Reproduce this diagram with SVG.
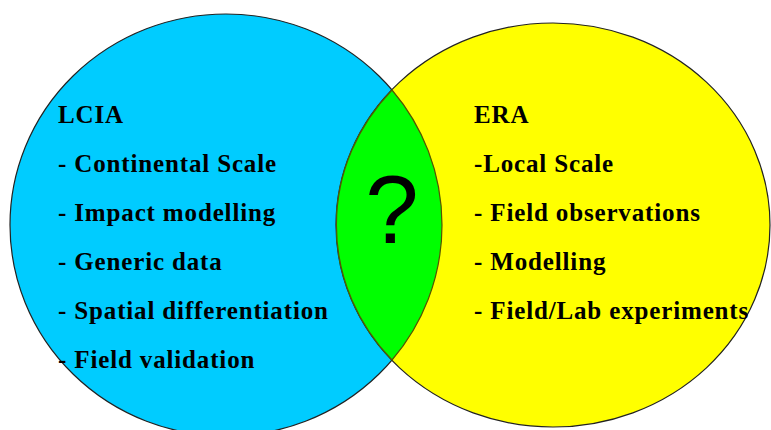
<svg xmlns="http://www.w3.org/2000/svg" width="771" height="430" viewBox="0 0 771 430">
  <style>
    .t { font-family: "Liberation Serif", "Times New Roman", serif; font-weight: bold; font-size: 25px; letter-spacing: 0.85px; fill: #000; }
    .q { font-family: "Liberation Sans", Arial, sans-serif; font-size: 96px; fill: #000; }
    .outline { stroke: #222; stroke-width: 1.2; }
  </style>
  <defs>
    <clipPath id="blueClip">
      <ellipse cx="226" cy="225" rx="216" ry="211"/>
    </clipPath>
  </defs>
  <rect x="0" y="0" width="771" height="430" fill="#ffffff"/>
  <g id="lcia">
    <ellipse class="outline" cx="226" cy="225" rx="216" ry="211" fill="#00CCFF"/>
  </g>
  <g id="era">
    <ellipse class="outline" cx="553" cy="225" rx="217" ry="202" fill="#FFFF00"/>
  </g>
  <g id="overlap">
    <ellipse cx="553" cy="225" rx="217" ry="202" fill="#00FF00" clip-path="url(#blueClip)"/>
    <path d="M 392 90 A 217 202 0 0 0 392 360" fill="none" stroke="#555500" stroke-width="1.2"/>
    <path d="M 392 90 A 216 211 0 0 1 392 360" fill="none" stroke="#555500" stroke-width="1.2"/>
    <text class="q" x="392" y="243" text-anchor="middle">?</text>
  </g>
  <g id="lcia-text">
    <text class="t" x="58" y="123">LCIA</text>
    <text class="t" x="58" y="172">- Continental Scale</text>
    <text class="t" x="58" y="221">- Impact modelling</text>
    <text class="t" x="58" y="270">- Generic data</text>
    <text class="t" x="58" y="319">- Spatial differentiation</text>
    <text class="t" x="58" y="368">- Field validation</text>
  </g>
  <g id="era-text">
    <text class="t" x="474" y="123">ERA</text>
    <text class="t" x="474" y="172">-Local Scale</text>
    <text class="t" x="474" y="221">- Field observations</text>
    <text class="t" x="474" y="270">- Modelling</text>
    <text class="t" x="474" y="319">- Field/Lab experiments</text>
  </g>
  <g id="connectors"/>
</svg>
